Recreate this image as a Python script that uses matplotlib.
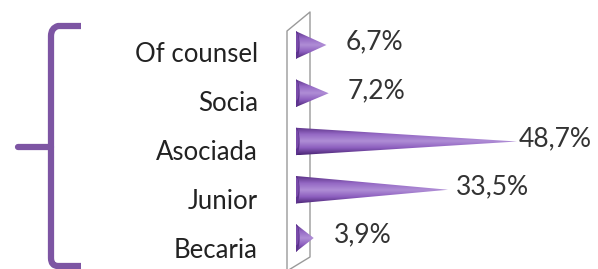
import matplotlib
matplotlib.use("Agg")
import matplotlib.pyplot as plt
import numpy as np
from matplotlib.patches import Polygon, Ellipse
from matplotlib.path import Path
from matplotlib.patches import PathPatch
from matplotlib.colors import LinearSegmentedColormap

plt.rcParams['font.family'] = ['Lato', 'DejaVu Sans']

categories = ["Of counsel", "Socia", "Asociada", "Junior", "Becaria"]
values = [6.7, 7.2, 48.7, 33.5, 3.9]
value_labels = ["6,7%", "7,2%", "48,7%", "33,5%", "3,9%"]

W, H = 598, 269
fig = plt.figure(figsize=(W / 100, H / 100), dpi=100)
fig.patch.set_facecolor("white")

# background axes in pixel units for the brace and the wall
bg = fig.add_axes([0, 0, 1, 1])
bg.set_xlim(0, W)
bg.set_ylim(H, 0)
bg.axis("off")

purple = "#7D55A3"
verts = [(81, 26), (58, 26), (51, 28), (51, 36),
         (51, 140), (51, 147), (51, 147),
         (51, 154), (51, 258), (51, 266), (58, 266), (81, 266)]
codes = [Path.MOVETO, Path.LINETO, Path.CURVE3, Path.CURVE3,
         Path.LINETO, Path.LINETO, Path.MOVETO,
         Path.LINETO, Path.LINETO, Path.CURVE3, Path.CURVE3, Path.LINETO]
bg.add_patch(PathPatch(Path(verts, codes), fill=False, edgecolor=purple,
                       lw=4.5, capstyle="butt", joinstyle="round"))
bg.plot([18, 51], [147, 147], color=purple, lw=4.5, solid_capstyle="round")

# the 3D wall
wall = "#9A9A9A"
bg.plot([287, 287, 310, 310, 287], [H + 2, 31, 12, 257, H + 2], color=wall, lw=1.0)

# cone bars axes: x in percent
x0_px, px_per = 296, 4.54
ax = fig.add_axes([x0_px / W, 0, 1 - x0_px / W, 1])
ax.set_xlim(0, (W - x0_px) / px_per)
ax.set_ylim(H / 48.25 - 45 / 48.25, -45 / 48.25)
ax.axis("off")

cmap = LinearSegmentedColormap.from_list(
    "cone", ["#5C3388", "#9468C4", "#B08ED6", "#8C5EBE", "#4A2574"])
grad = np.linspace(0, 1, 64).reshape(-1, 1)
h = 0.57
for i, v in enumerate(values):
    tri = Polygon([(0, i - h / 2), (v, i), (0, i + h / 2)], closed=True,
                  facecolor="none", edgecolor="none")
    ax.add_patch(tri)
    im = ax.imshow(grad, cmap=cmap, aspect="auto",
                   extent=(0, v, i + h / 2, i - h / 2), zorder=2)
    im.set_clip_path(tri)
    base = Ellipse((0, i), 1.6, h, facecolor="#5E3390", edgecolor="none", zorder=3)
    ax.add_patch(base)
    base_hl = Ellipse((0.1, i - 0.05), 1.0, h * 0.7, facecolor="#7A4CAA",
                      edgecolor="none", zorder=3)
    ax.add_patch(base_hl)
    # perspective: labels of short cones sit further from the tip
    off_pt = 16 - 0.3 * v
    ax.annotate(value_labels[i], (v, i - 0.06), xytext=(off_pt, 0),
                textcoords="offset points", fontsize=19, color="#333333",
                va="center", ha="left")

# category labels, slightly lower than the cones (perspective)
for i, c in enumerate(categories):
    ypix = 55 + i * 48.75
    bg.text(258, ypix, c, fontsize=18.5, color="#222222", ha="right", va="center")

fig.savefig("out.png", dpi=100)
